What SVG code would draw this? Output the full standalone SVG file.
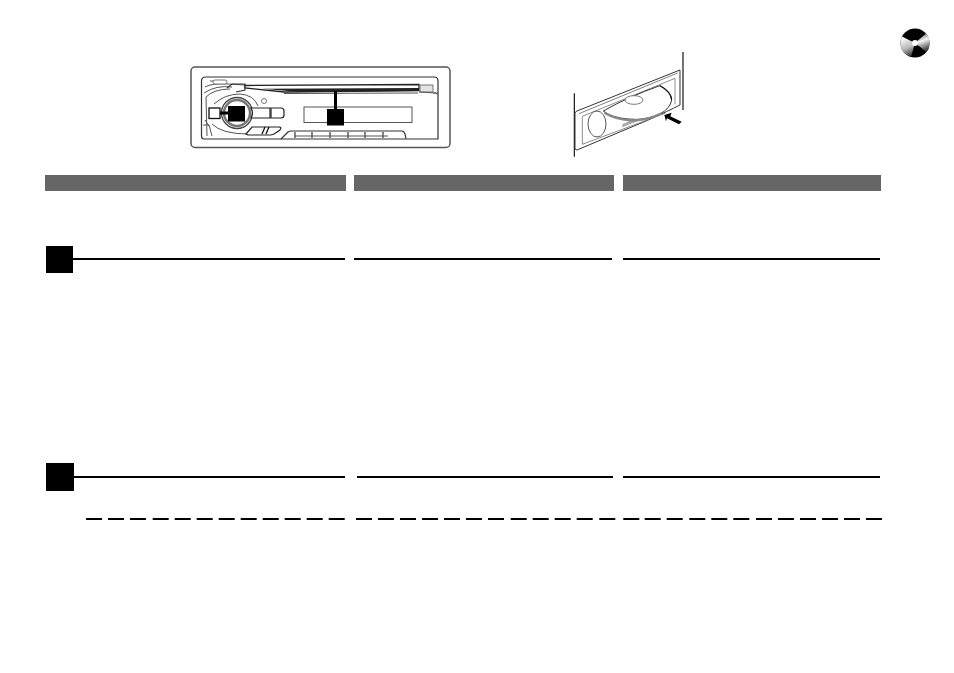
<svg xmlns="http://www.w3.org/2000/svg" width="954" height="673" viewBox="0 0 954 673">
<style>
.bar{fill:#666}
.sq{fill:#000}
.rule{stroke:#000;stroke-width:2;fill:none}
.dash{stroke:#000;stroke-width:2;fill:none}
.ln{stroke:#333;stroke-width:1.200;fill:none}
.tn{stroke:#555;stroke-width:1;fill:none}
.lt{stroke:#777;stroke-width:1;fill:#fff}
.wb{stroke:#222;stroke-width:1.200;fill:#fff}
</style>
<defs>
<linearGradient id="gl" x1="0.300" y1="0" x2=".6" y2="1"><stop offset="0" stop-color="#fff"/><stop offset=".55" stop-color="#bbb"/><stop offset="1" stop-color="#333"/></linearGradient>
<linearGradient id="gr" x1="0" y1="0" x2=".3" y2="1"><stop offset="0" stop-color="#444"/><stop offset=".5" stop-color="#f4f4f4"/><stop offset="1" stop-color="#444"/></linearGradient>
</defs>
<rect width="954" height="673" fill="#fff"/>

<g id="disc-icon">
<circle cx="915" cy="43" r="14.500" fill="#000"/>
<path d="M915 43L902 36.500A14.500 14.500 0 0 0 911 57Z" fill="url(#gl)"/>
<path d="M915 43L926 33.500A14.500 14.500 0 0 1 926.500 52Z" fill="url(#gr)"/>
<circle cx="915" cy="43" r="3" fill="#fff"/>
</g>

<g id="head-unit">
<rect x="191" y="67" width="259" height="80.500" rx="4" fill="#fff" stroke="#555" stroke-width="1.500"/>
<path class="ln" d="M206 77H434Q438 77 438 81V139H204Q201.500 139 201.500 136V81Q201.500 77 206 77Z"/>
<path class="tn" d="M210 81H222M205 87Q212 83 228 84L245 85M204 93Q216 85 232 87M207 136L206 97Q214 89 230 89M203 125H209L212 136M433 93H438"/>
<rect x="213" y="80" width="14" height="4" rx="2" class="lt"/>
<path class="ln" d="M227 88L232 84H245V90L236 92"/>
<path d="M245 85.500L419 84.500V90.500L284 92L245 88Z" fill="#fff" stroke="#222" stroke-width="1.300"/>
<path d="M262 88.700L419 88V91L300 92Z" fill="#222"/>
<rect x="420" y="85" width="13" height="7" fill="#e4e4e4" stroke="#777"/>
<path class="tn" d="M419 92L436 93L438 95M284 93.500L418 93"/>
<circle cx="237" cy="113" r="15.500" fill="#fff" stroke="#444" stroke-width="1.300"/>
<circle cx="237" cy="113" r="13" fill="none" stroke="#777" stroke-width="2.500"/>
<path class="tn" d="M214 104Q225 94 240 94Q254 95 258 106M212 124Q222 134 248 134M205 120L209 126"/>
<circle cx="264" cy="101" r="2.500" class="lt"/>
<path class="wb" d="M251 108H270V118H251Q254 113 251 108Z" fill="#eee"/>
<path class="wb" d="M271 108H281Q284 108 284 111V115Q284 118 281 118H271Z"/>
<rect x="209" y="108" width="11" height="10.500" fill="#fff" stroke="#111" stroke-width="1.300"/>
<rect x="220" y="111.500" width="10" height="3" fill="#000"/>
<rect x="304" y="107" width="108" height="15.500" fill="#fff" stroke="#555" stroke-width="1"/>
<path class="wb" d="M246 134L252 127H279Q282 127 280 130L274 134Q272 135 270 135H248Z"/>
<path d="M262 134L265 127M266 134L269 127" stroke="#111" stroke-width="1.300" fill="none"/>
<path class="ln" d="M281 139L288 132Q289 131 292 131H402Q404 131 405 134L406 139"/>
<path class="ln" d="M295 132V138M312 132V138M330 132V138M348 132V138M365 132V138M383 132V138" stroke-width="1.500"/>
<path class="tn" d="M295 136H388"/>
</g>

<g id="marker-a"><rect class="sq" x="228" y="106" width="17" height="15.500"/></g>
<g id="marker-b"><rect class="sq" x="334" y="91" width="3" height="18"/><rect class="sq" x="327" y="109" width="17" height="16.500"/></g>

<g id="disc-slot" transform="translate(565 45) scale(.3333)">
<path d="M28 145V335M354 21V195" stroke="#111" stroke-width="3.500" fill="none"/>
<path d="M36 198L345 75V180Q310 198 250 225L36 315Q30 315 30 308V205Q30 200 36 198Z" fill="#fff" stroke="#333" stroke-width="3"/>
<path d="M52 214V298L300 205M52 214L330 100V178" fill="none" stroke="#777" stroke-width="2.500"/>
<path d="M42 206L338 84" fill="none" stroke="#666" stroke-width="2.500"/>
<ellipse cx="96" cy="237" rx="27" ry="39" fill="#fff" stroke="#555" stroke-width="3"/>
<path d="M172 238L230 212V224L172 247Z" fill="#aaa"/>
<path d="M115 198Q190 155 285 122Q320 140 320 165Q316 190 285 207Q240 228 190 222Q140 218 115 198Z" fill="#fff" stroke="#333" stroke-width="3"/>
<path d="M118 203Q150 222 195 226Q245 228 290 205" fill="none" stroke="#888" stroke-width="7"/>
<path d="M285 122Q318 140 320 165" fill="none" stroke="#111" stroke-width="3.500"/>
<ellipse cx="207" cy="165" rx="27" ry="13" fill="#fff" stroke="#777" stroke-width="3"/>
<path d="M298 210L320 203L316 214L350 230L342 238L306 220L303 229Z" fill="#000"/>
</g>

<g id="headers">
<rect class="bar" x="45" y="175" width="301" height="16"/>
<rect class="bar" x="354" y="175" width="260" height="16"/>
<rect class="bar" x="623" y="175" width="258" height="16"/>
</g>

<g id="section-1">
<rect class="sq" x="46" y="246" width="27" height="27"/>
<path class="rule" d="M73 259H345M354 259H612M623 259H880"/>
</g>

<g id="section-2">
<rect class="sq" x="46" y="463" width="28" height="28"/>
<path class="rule" d="M74 477H345M357 477H613M623 477H880"/>
</g>

<g id="dashes">
<path class="dash" d="M86 519h16M108 519h16M130 519h16M152.700 519h16M174.700 519h16M196.700 519h16M218.700 519h16M240.700 519h16M262.700 519h16M284.700 519h16M306.700 519h16M328.700 519h16M356 519h16M378 519h16M400 519h16M422 519h16M444 519h16M466 519h16M488 519h16M510.700 519h16M532.700 519h16M554.700 519h16M576.700 519h16M599.300 519h16M623.300 519h16M644.700 519h16M666.700 519h16M689.300 519h16M711.300 519h16M733.300 519h16M756 519h16M778 519h16M800 519h16M822 519h16M844 519h16M866 519h16"/>
</g>
</svg>
